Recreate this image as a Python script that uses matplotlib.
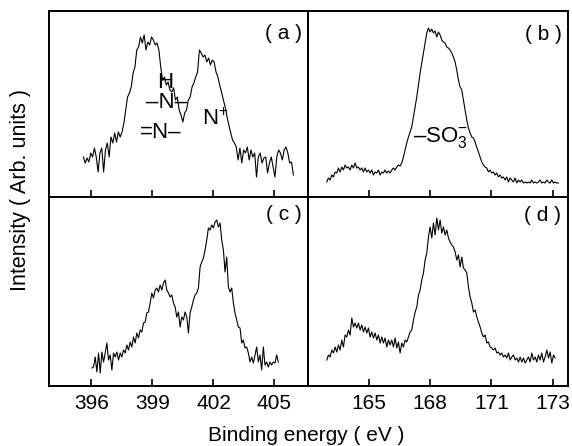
import numpy as np
import matplotlib
matplotlib.use('Agg')
import matplotlib.pyplot as plt

plt.rcParams['font.family'] = ['Liberation Sans', 'DejaVu Sans']
plt.rcParams['mathtext.fontset'] = 'custom'
plt.rcParams['mathtext.rm'] = 'Liberation Sans'
plt.rcParams['mathtext.it'] = 'Liberation Sans:italic'
plt.rcParams['mathtext.bf'] = 'Liberation Sans:bold'

# N 1s spectra (a) and (c), S 2p spectra (b) and (d); intensity in arb. units
n1s_a_range = (395.60, 405.93)
n1s_a = [40, 34, 39, 35, 44, 40, 49, 40, 25, 44, 49, 25, 47, 54, 40, 60, 54, 64, 55, 65,
         60, 65, 74, 87, 100, 104, 110, 124, 130, 147, 150, 160, 154, 162, 147, 155, 152, 160, 157, 152,
         154, 147, 130, 117, 120, 112, 115, 107, 105, 109, 97, 100, 87, 82, 75, 84, 87, 97, 100, 110,
         114, 120, 125, 147, 144, 140, 142, 135, 139, 132, 137, 135, 125, 120, 112, 105, 97, 90, 80, 72,
         64, 57, 54, 50, 37, 49, 34, 47, 44, 50, 37, 47, 40, 44, 20, 40, 44, 34, 39, 40,
         24, 34, 40, 30, 20, 40, 47, 44, 37, 47, 50, 44, 34, 35, 22]

n1s_c_range = (396.02, 405.19)
n1s_c = [18, 19, 29, 14, 33, 13, 34, 24, 33, 43, 26, 31, 16, 33, 29, 34, 26, 33, 29, 36,
         33, 41, 36, 44, 39, 49, 43, 53, 48, 56, 54, 63, 64, 73, 74, 83, 93, 88, 96, 98,
         94, 101, 96, 103, 106, 96, 93, 89, 91, 83, 79, 69, 74, 59, 69, 66, 74, 69, 53, 73,
         79, 86, 91, 93, 98, 119, 124, 128, 136, 146, 158, 156, 161, 158, 164, 166, 159, 163, 146, 136,
         114, 129, 99, 94, 98, 83, 73, 66, 59, 58, 43, 46, 38, 39, 33, 24, 29, 23, 31, 39,
         24, 31, 16, 39, 21, 24, 19, 24, 21, 24, 23, 31, 24]

s2p_b_range = (162.93, 174.28)
s2p_b = [15, 19, 17, 22, 20, 25, 24, 29, 25, 30, 27, 32, 29, 30, 27, 32, 29, 34, 29, 30,
         27, 29, 25, 29, 25, 27, 24, 27, 22, 25, 24, 27, 22, 25, 24, 27, 24, 26, 24, 27,
         29, 27, 30, 32, 31, 34, 40, 47, 54, 60, 65, 70, 80, 90, 100, 112, 124, 134, 144, 154,
         164, 169, 165, 168, 164, 166, 160, 165, 162, 157, 155, 154, 150, 149, 147, 144, 140, 135, 127, 117,
         110, 107, 97, 87, 77, 69, 64, 60, 59, 55, 50, 45, 40, 35, 32, 30, 29, 25, 27, 24,
         25, 22, 24, 20, 22, 19, 20, 17, 20, 15, 19, 17, 15, 19, 14, 17, 15, 17, 14, 15,
         14, 15, 14, 17, 14, 15, 14, 15, 17, 14, 15, 14, 17, 15, 14, 17, 14, 15, 14, 14]

s2p_d_range = (162.93, 174.12)
s2p_d = [26, 31, 29, 36, 33, 39, 34, 41, 36, 46, 39, 51, 49, 56, 51, 68, 59, 63, 58, 63,
         56, 61, 54, 59, 53, 58, 49, 54, 48, 53, 46, 51, 43, 49, 43, 48, 39, 46, 41, 46,
         39, 48, 38, 44, 33, 43, 39, 46, 44, 49, 54, 56, 66, 74, 79, 91, 96, 106, 113, 126,
         133, 149, 159, 148, 163, 151, 168, 156, 166, 153, 159, 151, 156, 148, 144, 141, 139, 134, 126, 131,
         119, 129, 118, 116, 113, 99, 89, 83, 74, 76, 69, 64, 59, 53, 49, 51, 43, 44, 39, 38,
         36, 38, 33, 34, 31, 33, 29, 31, 28, 33, 26, 29, 31, 26, 28, 24, 29, 24, 28, 23,
         26, 29, 24, 33, 26, 29, 24, 31, 26, 33, 24, 29, 36, 28, 34, 23, 31, 28]

n_ticks = [396, 399, 402, 405]
n_labels = ['396', '399', '402', '405']
s_ticks = [165, 168, 171, 174]
s_labels = ['165', '168', '171', '173']

fig = plt.figure(figsize=(5.72, 4.46), dpi=100)
L, M, R = 49/572, 308/572, 568/572
T, C, B = 1 - 11/446, 1 - 197/446, 1 - 386/446

panels = [
    ([L, C, M - L, T - C], n1s_a_range, n1s_a, (393.91, 406.65), n_ticks, n_labels, 186, '( a )', 0.93, False),
    ([M, C, R - M, T - C], s2p_b_range, s2p_b, (162.01, 174.75), s_ticks, s_labels, 186, '( b )', 0.925, False),
    ([L, B, M - L, C - B], n1s_c_range, n1s_c, (393.91, 406.65), n_ticks, n_labels, 189, '( c )', 0.958, True),
    ([M, B, R - M, C - B], s2p_d_range, s2p_d, (162.01, 174.75), s_ticks, s_labels, 189, '( d )', 0.95, True),
]

axes = []
for rect, rng, vals, xl, ticks, labels, ytop, tag, ty, show in panels:
    ax = fig.add_axes(rect)
    e = np.linspace(rng[0], rng[1], len(vals))
    ax.plot(e, vals, color='black', lw=0.8)
    ax.set_xlim(xl)
    ax.set_ylim(0, ytop)
    ax.set_yticks([])
    ax.set_xticks(ticks)
    if show:
        ax.set_xticklabels(labels, fontsize=15)
    else:
        ax.set_xticklabels([])
    ax.tick_params(axis='x', direction='in', length=5, width=1.2, pad=6)
    for s in ax.spines.values():
        s.set_linewidth(1.4)
    ax.text(0.975, ty, tag, transform=ax.transAxes, ha='right', va='top', fontsize=15)
    axes.append(ax)

ax_a, ax_b = axes[0], axes[1]
ax_a.text(399.62, 109, 'H', ha='center', va='baseline', fontsize=16)
ax_a.text(399.70, 89, '–N–', ha='center', va='baseline', fontsize=16)
ax_a.text(399.41, 59, '=N–', ha='center', va='baseline', fontsize=16)
ax_a.text(401.42, 72, 'N$^{+}$', ha='left', va='baseline', fontsize=16)
ax_b.text(167.17, 55, '–SO$_3^{-}$', ha='left', va='baseline', fontsize=16)

fig.text(0.535, 0.012, 'Binding energy ( eV )', ha='center', va='baseline', fontsize=15)
fig.text(0.035, 0.574, 'Intensity ( Arb. units )', ha='center', va='center', rotation=90, fontsize=15.5)

fig.savefig('out.png', dpi=100)
